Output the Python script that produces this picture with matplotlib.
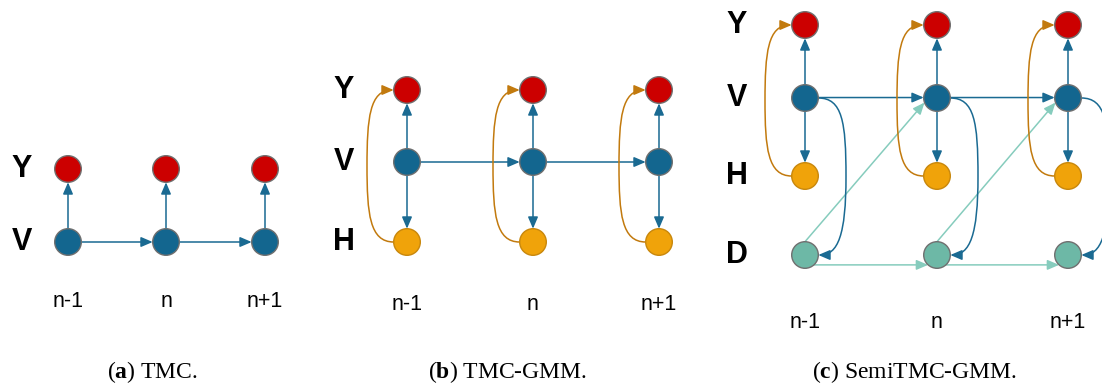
import numpy as np
import matplotlib
matplotlib.use("Agg")
import matplotlib.pyplot as plt
from matplotlib.patches import Circle, FancyArrowPatch, ArrowStyle
from matplotlib.path import Path

plt.rcParams['mathtext.fontset'] = 'custom'
plt.rcParams['mathtext.rm'] = 'Liberation Serif'
plt.rcParams['mathtext.bf'] = 'Liberation Serif:bold'

# node layout (pixels) for the three panels
cols_a = [68, 166, 265]
rows_a = {'Y': 169, 'V': 242}
cols_b = [407, 533, 659]
rows_b = {'Y': 90, 'V': 162, 'H': 242}
cols_c = [805, 937, 1068]
rows_c = {'Y': 25, 'V': 98, 'H': 176, 'D': 255}

label_x = [22, 344, 737]
step_labels = ['n-1', 'n', 'n+1']
step_y = [307, 310, 328]
captions = ['a', 'b', 'c']
caption_text = ['TMC.', 'TMC-GMM.', 'SemiTMC-GMM.']
caption_x = [152, 508, 915]

RED = '#CC0000'
BLUE = '#13668F'
ORANGE = '#F0A30A'
TEAL = '#6DB8A6'
BLUE_L = '#1A6A92'
ORANGE_L = '#C27A0E'
TEAL_L = '#86CCBD'
R = 13.3

fig = plt.figure(figsize=(11.02, 3.85), dpi=100)
ax = fig.add_axes([0, 0, 1, 1])
ax.set_xlim(0, 1102)
ax.set_ylim(385, 0)
ax.axis('off')

head = ArrowStyle('-|>', head_length=7, head_width=3)


def pt(x, y, ang):
    a = np.deg2rad(ang)
    return (x + R * np.cos(a), y - R * np.sin(a))


def node(x, y, color, edge='#6F6F6F'):
    ax.add_patch(Circle((x, y), R, facecolor=color, edgecolor=edge, lw=1.0, zorder=3))


def arrow(p0, p1, color):
    ax.add_patch(FancyArrowPatch(p0, p1, arrowstyle=head, mutation_scale=1,
                                 color=color, lw=1.1, shrinkA=0, shrinkB=0, zorder=2))


def curve(verts, color):
    codes = [Path.MOVETO] + [Path.CURVE4] * 6
    ax.add_patch(FancyArrowPatch(path=Path(verts, codes), arrowstyle=head, mutation_scale=1,
                                 color=color, lw=1.1, zorder=2))


def arc_left(x, yb, yt, off=40):
    x0 = x - R
    xl = x - off
    ym = (yb + yt) / 2
    curve([(x0, yb), (x0 - 24, yb), (xl, yb - 28), (xl, ym),
           (xl, yt + 28), (x0 - 24, yt), (x0, yt)], ORANGE_L)


def hook_right(x, yv, yd, off=41):
    x0 = x + R
    xr = x + off
    ym = (yv + yd) / 2
    curve([(x0, yv), (x0 + 24, yv), (xr, yv + 24), (xr, ym),
           (xr, yd - 20), (xr - 8, yd), (x0, yd)], BLUE_L)


row_font = dict(family='Liberation Sans', weight='bold', fontsize=22, ha='center', va='center')
step_font = dict(family='Liberation Sans', fontsize=15.5, ha='center', va='baseline')

# panel (a)
for i, x in enumerate(cols_a):
    arrow(pt(x, rows_a['V'], 90), pt(x, rows_a['Y'], 270), BLUE_L)
    if i < 2:
        arrow(pt(x, rows_a['V'], 0), pt(cols_a[i + 1], rows_a['V'], 180), BLUE_L)
    node(x, rows_a['Y'], RED)
    node(x, rows_a['V'], BLUE)

# panel (b)
for i, x in enumerate(cols_b):
    arrow(pt(x, rows_b['V'], 90), pt(x, rows_b['Y'], 270), BLUE_L)
    arrow(pt(x, rows_b['V'], 270), pt(x, rows_b['H'], 90), BLUE_L)
    if i < 2:
        arrow(pt(x, rows_b['V'], 0), pt(cols_b[i + 1], rows_b['V'], 180), BLUE_L)
    arc_left(x, rows_b['H'], rows_b['Y'])
    node(x, rows_b['Y'], RED)
    node(x, rows_b['V'], BLUE)
    node(x, rows_b['H'], ORANGE, edge='#C8870C')

# panel (c)
for i, x in enumerate(cols_c):
    arrow(pt(x, rows_c['V'], 90), pt(x, rows_c['Y'], 270), BLUE_L)
    arrow(pt(x, rows_c['V'], 270), pt(x, rows_c['H'], 90), BLUE_L)
    if i < 2:
        nx = cols_c[i + 1]
        arrow(pt(x, rows_c['V'], 2), pt(nx, rows_c['V'], 178), BLUE_L)
        arrow(pt(x, rows_c['D'], 90), pt(nx, rows_c['V'], 200), TEAL_L)
        arrow(pt(x, rows_c['D'], -48), pt(nx, rows_c['D'], 228), TEAL_L)
    arc_left(x, rows_c['H'], rows_c['Y'])
    hook_right(x, rows_c['V'], rows_c['D'])
    node(x, rows_c['Y'], RED)
    node(x, rows_c['V'], BLUE)
    node(x, rows_c['H'], ORANGE, edge='#C8870C')
    node(x, rows_c['D'], TEAL)

# row and step labels
for k, (cols, rows) in enumerate([(cols_a, rows_a), (cols_b, rows_b), (cols_c, rows_c)]):
    for name, y in rows.items():
        ax.text(label_x[k], y, name, **row_font)
    for x, s in zip(cols, step_labels):
        ax.text(x, step_y[k], s, **step_font)
    ax.text(caption_x[k], 378, r'($\mathbf{%s}$) %s' % (captions[k], caption_text[k]),
            family='Liberation Serif', fontsize=17, ha='center', va='baseline')

fig.savefig('out.png', dpi=100)
